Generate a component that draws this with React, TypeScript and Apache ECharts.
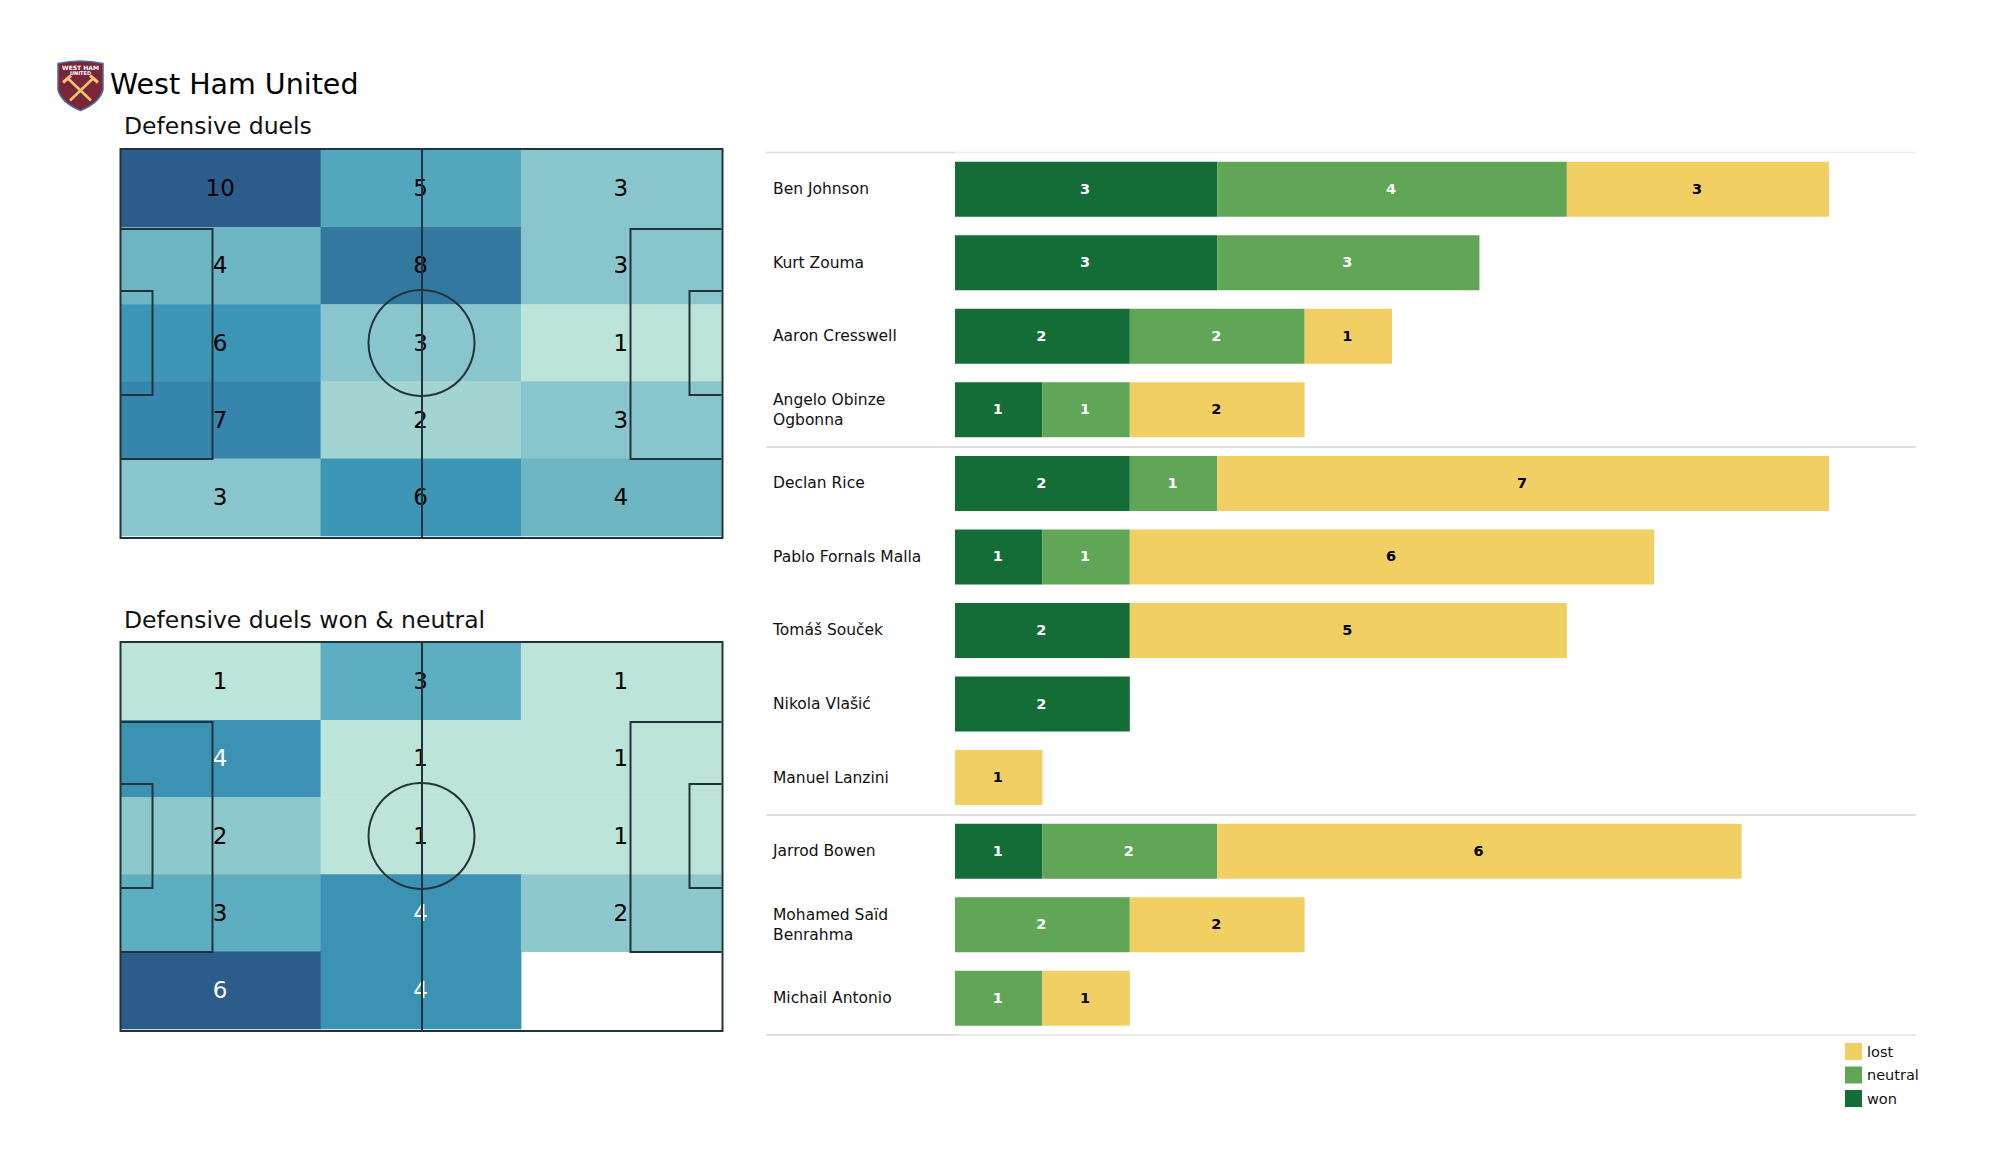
import React, { useEffect, useRef } from "react";
import * as echarts from "echarts";

const FONT = "DejaVu Sans";

const players = [
  "Ben Johnson", "Kurt Zouma", "Aaron Cresswell", "Angelo Obinze\nOgbonna", "Declan Rice",
  "Pablo Fornals Malla", "Tomáš Souček", "Nikola Vlašić", "Manuel Lanzini", "Jarrod Bowen",
  "Mohamed Saïd\nBenrahma", "Michail Antonio",
];
const won = [3, 3, 2, 1, 2, 1, 2, 2, null, 1, null, null];
const neutral = [4, 3, 2, 1, 1, 1, null, null, null, 2, 2, 1];
const lost = [3, null, 1, 2, 7, 6, 5, null, 1, 6, 2, 1];

const zoneCols = ["left", "centre", "right"];
const zoneRows = ["r1", "r2", "r3", "r4", "r5"];
const duels = [
  [10, 5, 3],
  [4, 8, 3],
  [6, 3, 1],
  [7, 2, 3],
  [3, 6, 4],
];
const duelsWonNeutral = [
  [1, 3, 1],
  [4, 1, 1],
  [2, 1, 1],
  [3, 4, 2],
  [6, 4, null],
];

const duelColors: Record<number, string> = {
  1: "#bce4d8", 2: "#a2d5d2", 3: "#89c5cd", 4: "#6eb6c3", 5: "#52a7bd",
  6: "#3d96b6", 7: "#3685ad", 8: "#33789f", 10: "#2b5c8a",
};
const wonNeutralColors: Record<number, string> = {
  1: "#bce4d8", 2: "#8cc8cc", 3: "#5eaec2", 4: "#3b92b3", 6: "#2b5c8a",
};
const whiteLabels2 = [4, 6];

const C_WON = "#146c37";
const C_NEUTRAL = "#60a656";
const C_LOST = "#f2cf63";
const LINE = "#22343b";

echarts.graphic.registerShape(
  "crestShield",
  echarts.graphic.extendPath("M0 3 Q22 -2 45 3 L45 29 Q42 42 22.5 50 Q3 42 0 29 Z", {})
);

function pitchLines(top: number): any[] {
  const L = 120.5, R = 722.5, T = top, B = top + 389;
  const box = (x1: number, y1: number, x2: number, y2: number) => ({
    type: "polyline", z: 20, silent: true,
    shape: { points: [[x1, y1], [x2, y1], [x2, y2], [x1, y2]] },
    style: { stroke: LINE, lineWidth: 2, fill: "none" },
  });
  return [
    { type: "rect", z: 20, silent: true, shape: { x: L, y: T, width: R - L, height: B - T }, style: { fill: "none", stroke: LINE, lineWidth: 2 } },
    { type: "line", z: 20, silent: true, shape: { x1: 422, y1: T, x2: 422, y2: B }, style: { stroke: LINE, lineWidth: 2 } },
    { type: "circle", z: 20, silent: true, shape: { cx: 421.5, cy: T + 194, r: 53 }, style: { fill: "none", stroke: LINE, lineWidth: 2 } },
    box(L, T + 80, L + 92, T + 310),
    box(L, T + 142, L + 32, T + 246),
    box(R - 1, T + 80, R - 92, T + 310),
    box(R - 1, T + 142, R - 33, T + 246),
  ];
}

const rule = (x1: number, x2: number, y: number, color: string) => ({
  type: "line", z: 1, silent: true,
  shape: { x1, y1: y, x2, y2: y },
  style: { stroke: color, lineWidth: 1.5 },
});

const crest = {
  type: "group", x: 58, y: 60.5, z: 30,
  children: [
    { type: "crestShield", style: { fill: "#7a263a", stroke: "#4f6a9c", lineWidth: 1.5 } },
    { type: "line", shape: { x1: 10, y1: 18, x2: 33, y2: 40 }, style: { stroke: "#f3c86a", lineWidth: 2.5 } },
    { type: "line", shape: { x1: 35, y1: 18, x2: 12, y2: 40 }, style: { stroke: "#f3c86a", lineWidth: 2.5 } },
    { type: "line", shape: { x1: 5, y1: 22, x2: 13, y2: 15 }, style: { stroke: "#f3c86a", lineWidth: 3 } },
    { type: "line", shape: { x1: 40, y1: 22, x2: 32, y2: 15 }, style: { stroke: "#f3c86a", lineWidth: 3 } },
    { type: "text", x: 22.5, y: 7, style: { text: "WEST HAM", fill: "#ffffff", font: "bold 6px 'DejaVu Sans'", align: "center", verticalAlign: "middle" } },
    { type: "text", x: 22.5, y: 12.5, style: { text: "UNITED", fill: "#ffffff", font: "bold 5px 'DejaVu Sans'", align: "center", verticalAlign: "middle" } },
  ],
};

function heatSeries(values: (number | null)[][], grid: number, whites: number[]): any {
  const data: any[] = [];
  values.forEach((row, y) =>
    row.forEach((v, x) => {
      if (v === null) return;
      data.push({ value: [x, y, v], label: { color: whites.includes(v) ? "#ffffff" : "#000000" } });
    })
  );
  return {
    type: "heatmap",
    xAxisIndex: grid,
    yAxisIndex: grid,
    data,
    silent: true,
    label: { show: true, fontFamily: FONT, fontSize: 23, offset: [-0.5, -0.5], formatter: (p: any) => String(p.value[2]) },
  };
}

const pieces = (m: Record<number, string>) =>
  Object.keys(m).map((k) => ({ value: Number(k), color: m[Number(k)] }));

export default function App() {
  const ref = useRef<HTMLDivElement>(null);
  useEffect(() => {
    const chart = echarts.init(ref.current!, null, { renderer: "svg" });
    const barLabel = (color: string) => ({
      show: true, position: "inside" as const, color, fontFamily: FONT, fontSize: 14.5, fontWeight: "bold" as const, offset: [-1, -0.5],
    });
    chart.setOption({
      animation: false,
      backgroundColor: "#ffffff",
      textStyle: { fontFamily: FONT },
      title: [
        { text: "West Ham United", left: 105, top: 65, textStyle: { fontFamily: FONT, fontSize: 28.5, fontWeight: "normal", color: "#000" } },
        { text: "Defensive duels", left: 119, top: 109, textStyle: { fontFamily: FONT, fontSize: 23.5, fontWeight: "normal", color: "#111" } },
        { text: "Defensive duels won & neutral", left: 119, top: 603, textStyle: { fontFamily: FONT, fontSize: 23.5, fontWeight: "normal", color: "#111" } },
      ],
      grid: [
        { left: 120.5, top: 150, width: 601, height: 386 },
        { left: 120.5, top: 643, width: 601, height: 386 },
        { left: 955, top: 152.4, width: 961.5, height: 882.6 },
      ],
      xAxis: [
        { gridIndex: 0, type: "category", data: zoneCols, show: false },
        { gridIndex: 1, type: "category", data: zoneCols, show: false },
        { gridIndex: 2, type: "value", min: 0, max: 11, show: false },
      ],
      yAxis: [
        { gridIndex: 0, type: "category", data: zoneRows, inverse: true, show: false },
        { gridIndex: 1, type: "category", data: zoneRows, inverse: true, show: false },
        {
          gridIndex: 2, type: "category", data: players, inverse: true,
          axisLine: { show: false }, axisTick: { show: false }, splitLine: { show: false },
          axisLabel: { align: "left", margin: 182, color: "#111", fontFamily: FONT, fontSize: 15.5, lineHeight: 20, padding: [4, 0, 0, 0] },
        },
      ],
      visualMap: [
        { type: "piecewise", show: false, seriesIndex: 0, dimension: 2, pieces: pieces(duelColors) },
        { type: "piecewise", show: false, seriesIndex: 1, dimension: 2, pieces: pieces(wonNeutralColors) },
      ],
      legend: {
        orient: "vertical", left: 1840, top: 1038, itemWidth: 17, itemHeight: 17, itemGap: 6.5, icon: "rect",
        data: ["lost", "neutral", "won"], selectedMode: false,
        textStyle: { fontFamily: FONT, fontSize: 14.5, color: "#111" },
      },
      series: [
        heatSeries(duels, 0, []),
        heatSeries(duelsWonNeutral, 1, whiteLabels2),
        { name: "won", type: "bar", stack: "d", xAxisIndex: 2, yAxisIndex: 2, barWidth: 55, data: won, itemStyle: { color: C_WON }, label: barLabel("#ffffff") },
        { name: "neutral", type: "bar", stack: "d", xAxisIndex: 2, yAxisIndex: 2, barWidth: 55, data: neutral, itemStyle: { color: C_NEUTRAL }, label: barLabel("#ffffff") },
        { name: "lost", type: "bar", stack: "d", xAxisIndex: 2, yAxisIndex: 2, barWidth: 55, data: lost, itemStyle: { color: C_LOST }, label: barLabel("#000000") },
      ],
      graphic: [
        ...pitchLines(149),
        ...pitchLines(642),
        rule(766, 955, 152.4, "#dcdcdc"),
        rule(955, 1916, 152.4, "#ececec"),
        rule(766, 1916, 447, "#d4d4d4"),
        rule(766, 1916, 815, "#d4d4d4"),
        rule(766, 955, 1035, "#d4d4d4"),
        rule(955, 1916, 1035, "#e0e0e0"),
        crest,
      ],
    });
    return () => chart.dispose();
  }, []);
  return <div ref={ref} style={{ position: "absolute", left: 0, top: 0, width: 2000, height: 1175 }} />;
}
